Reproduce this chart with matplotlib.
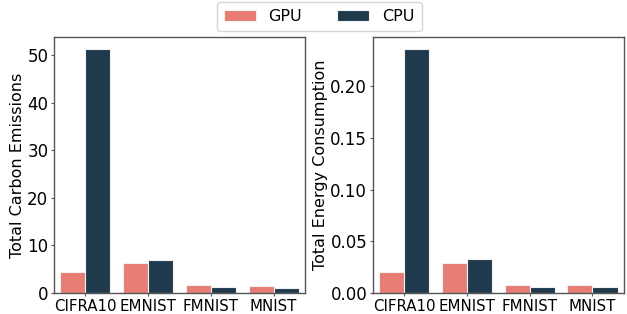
import numpy as np
import matplotlib
matplotlib.use("Agg")
import matplotlib.pyplot as plt

datasets = ["CIFRA10", "EMNIST", "FMNIST", "MNIST"]
devices = ["GPU", "CPU"]
carbon_gpu = [4.4, 6.3, 1.6, 1.5]
carbon_cpu = [51.3, 7.0, 1.2, 1.1]
energy_gpu = [0.0204, 0.0294, 0.0078, 0.0075]
energy_cpu = [0.236, 0.0327, 0.0061, 0.0058]

colors = {"GPU": "#e67c73", "CPU": "#1f3a4d"}

fig, axes = plt.subplots(1, 2, figsize=(6.27, 3.14), dpi=100)
x = np.arange(len(datasets))
w = 0.4

panels = [
    (axes[0], carbon_gpu, carbon_cpu, "Total Carbon Emissions"),
    (axes[1], energy_gpu, energy_cpu, "Total Energy Consumption"),
]
handles = []
for ax, gpu, cpu, label in panels:
    b1 = ax.bar(x - w / 2, gpu, w, color=colors["GPU"], edgecolor="#f0f0f0", linewidth=0.8, label="GPU")
    b2 = ax.bar(x + w / 2, cpu, w, color=colors["CPU"], edgecolor="#f0f0f0", linewidth=0.8, label="CPU")
    handles = [b1, b2]
    ax.set_xticks(x)
    ax.set_xticklabels(datasets, fontsize=10.8)
    ax.tick_params(axis="x", length=2.5, pad=1.5, color="#555555")
    ax.tick_params(axis="y", labelsize=12, length=2.5, pad=1.5, color="#555555")
    ax.set_xlim(-0.5, len(datasets) - 0.5)
    ax.set_ylabel(label, fontsize=11.5, labelpad=1.5)
    for s in ax.spines.values():
        s.set_color("#555555")
        s.set_linewidth(1.0)

axes[1].set_yticks([0.0, 0.05, 0.10, 0.15, 0.20])
axes[1].set_yticklabels(["0.00", "0.05", "0.10", "0.15", "0.20"])

fig.subplots_adjust(left=0.086, right=0.995, bottom=0.067, top=0.882, wspace=0.27)
fig.legend(handles, devices, loc="upper center", ncol=2, bbox_to_anchor=(0.509, 0.994),
           fontsize=11.5, handlelength=2.0, columnspacing=2.2, borderpad=0.45,
           borderaxespad=0.0, frameon=True)

fig.savefig("out.png", dpi=100)
